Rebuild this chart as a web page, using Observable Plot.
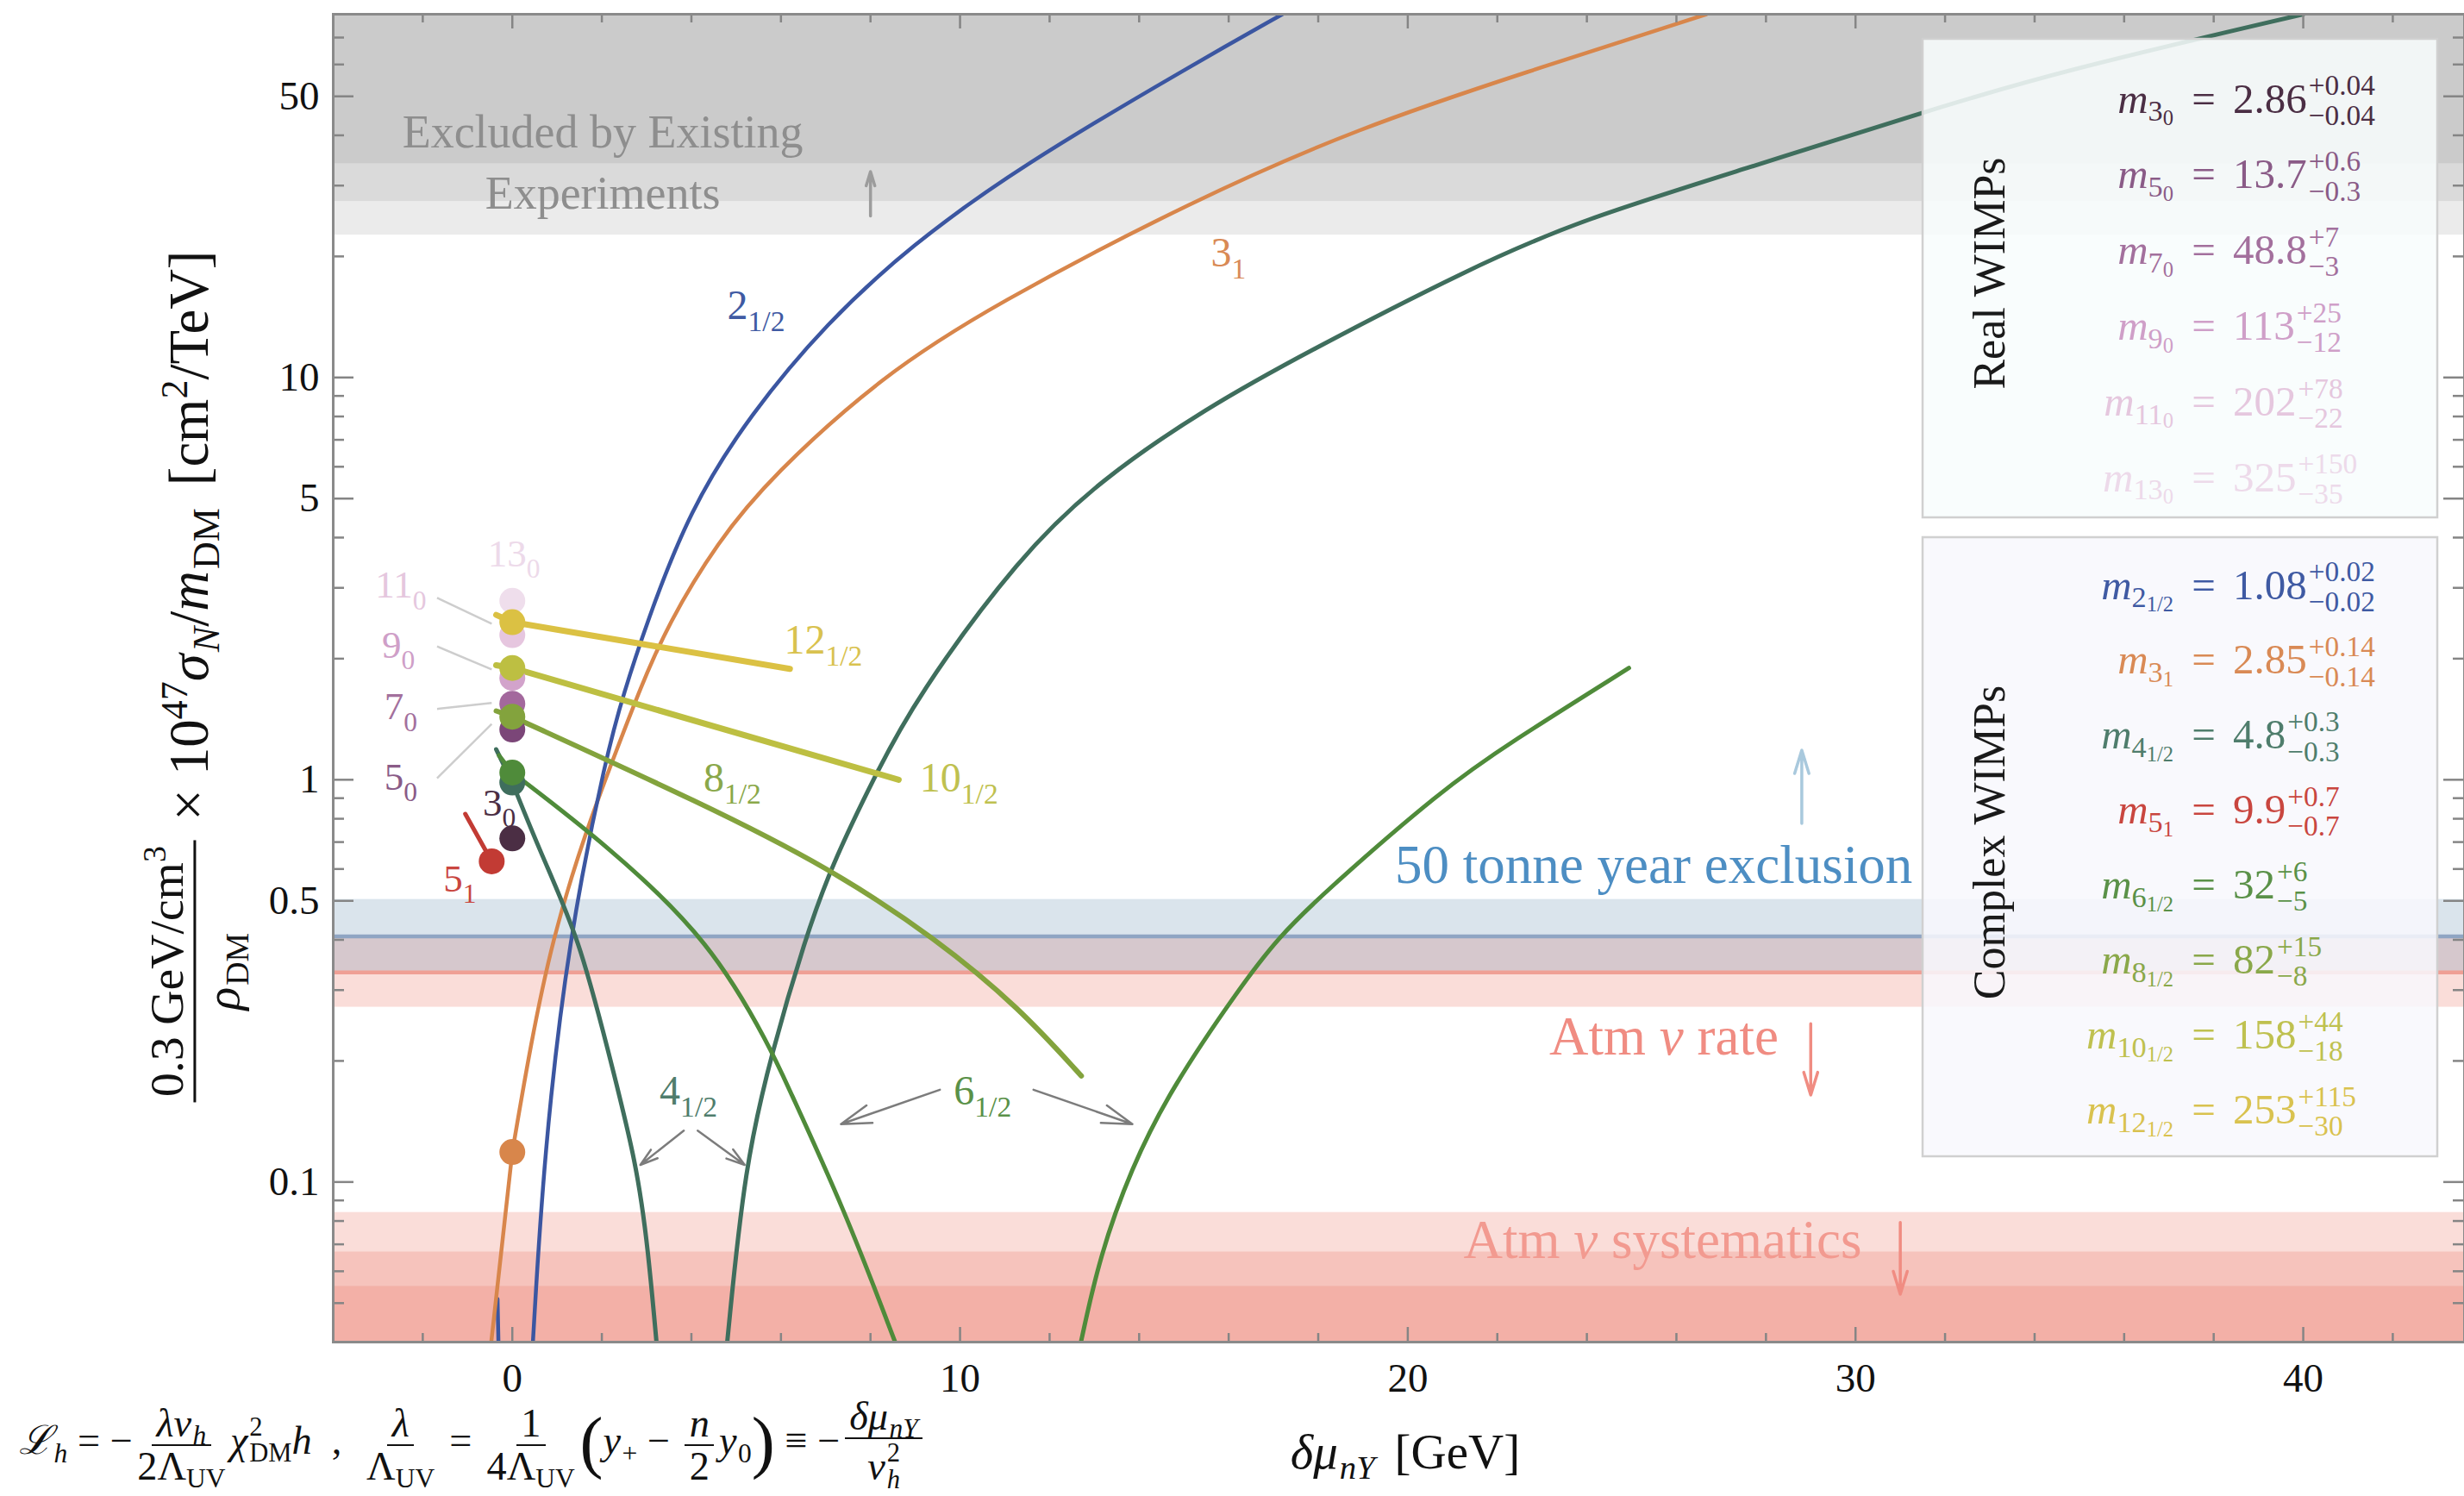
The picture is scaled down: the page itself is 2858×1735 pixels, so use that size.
<!DOCTYPE html>
<html>
<head>
<meta charset="utf-8">
<script src="https://cdn.jsdelivr.net/npm/d3@7"></script>
<script src="https://cdn.jsdelivr.net/npm/@observablehq/plot@0.6"></script>
<style>
  html, body { margin: 0; padding: 0; background: #fff; }
  #wrap { position: relative; width: 2858px; height: 1735px; overflow: hidden; font-family: "Liberation Serif", "DejaVu Serif", serif; color: #111; }
  #wrap > svg { position: absolute; left: 0; top: 0; }
  .ov { position: absolute; white-space: nowrap; line-height: 1.15; }
  .ov sub, .ov sup { font-size: 68%; line-height: 0; }
  .ov sub { vertical-align: -0.3em; }
  .ov sup { vertical-align: 0.55em; }
  .ov i + sub { margin-left: 0.05em; }
  .frac { display: inline-flex; flex-direction: column; align-items: center; vertical-align: middle; margin: 0 0.12em; line-height: 1.05; }
  .frac > span:first-child { border-bottom: 0.055em solid currentColor; padding: 0 0.12em 0.03em; }
  .frac > span:last-child { padding-top: 0.03em; }
  .ss { display: inline-flex; flex-direction: column; font-size: 66%; line-height: 1.0; vertical-align: 0.7em; margin-left: 0.06em; }
  .big { font-size: 175%; vertical-align: -0.16em; line-height: 0; font-weight: 300; }
  .yf { font-size: 0.86em; }
  .op { margin: 0 0.25em; }
  .gap { display: inline-block; width: 0.4em; }
  #formula { line-height: 1; }
  #formula .frac { line-height: 0.98; }
</style>
</head>
<body>
<div id="wrap">
  <div id="ylab" class="ov"><span class="frac yf"><span>0.3 GeV/cm<sup>3</sup></span><span><i>ρ</i><sub>DM</sub></span></span><span class="op">×</span>10<sup>47</sup><i>σ</i><sub><i>N</i></sub>/<i>m</i><sub>DM</sub><span class="gap"></span>[cm<sup>2</sup>/TeV]</div>
  <div id="xlab" class="ov"><i>δμ</i><sub><i>nY</i></sub><span class="gap"></span>[GeV]</div>
  <div id="formula" class="ov"><i>ℒ</i><sub><i>h</i></sub> = −<span class="frac"><span><i>λv</i><sub><i>h</i></sub></span><span>2Λ<sub>UV</sub></span></span><i>χ</i><span class="ss"><span>2</span><span>DM</span></span><i>h</i> &nbsp;, &nbsp;<span class="frac"><span><i>λ</i></span><span>Λ<sub>UV</sub></span></span> = <span class="frac"><span>1</span><span>4Λ<sub>UV</sub></span></span><span class="big">(</span><i>y</i><sub>+</sub> − <span class="frac"><span><i>n</i></span><span>2</span></span><i>y</i><sub>0</sub><span class="big">)</span> ≡ −<span class="frac"><span><i>δμ</i><sub><i>nY</i></sub></span><span><i>v</i><span class="ss"><span>2</span><span><i>h</i></span></span></span></span></div>
</div>
<script>
// ---------- axes ----------
const xDomain = [-4, 43.6];
const yDomain = [0.04, 80];
const xMajorTicks = [0, 10, 20, 30, 40];
const xMinorTicks = [-2, 2, 4, 6, 8, 12, 14, 16, 18, 22, 24, 26, 28, 32, 34, 36, 38, 42];
const yMajorTicks = [0.1, 0.5, 1, 5, 10, 50];
const yMinorTicks = [0.05, 0.06, 0.07, 0.08, 0.09, 0.2, 0.3, 0.4, 0.6, 0.7, 0.8, 0.9, 2, 3, 4, 6, 7, 8, 9, 20, 30, 40, 60, 70];

// ---------- horizontal bands (cross-section ratio values) ----------
const excludedFloors = [22.6, 27.4, 34.0];          // existing-experiment limits, each shaded up to the top
const tonneYearBand = [0.332, 0.408, 0.504];        // low, central, high
const atmRateBand = [0.272, 0.332, 0.408];          // low, central, high
const atmSystCeilings = [0.084, 0.067, 0.055];      // each shaded down to the bottom

// ---------- predictions vs δμ_nY  ([δμ, ratio]) ----------
const curve2Half = [[0.46, 0.04], [0.705, 0.117], [1.25, 0.401], [2.12, 1.18], [2.49, 1.64], [2.98, 2.42], [3.96, 4.7], [5.31, 8.1], [7.03, 13.7], [8.88, 21.2], [11.34, 33.5], [15.24, 60.3], [17.2, 80]];
const curve2HalfLeft = [[-0.33, 0.0512], [-0.31, 0.04]];
const curve3One = [[-0.47, 0.04], [0, 0.1187], [0.40, 0.217], [0.89, 0.401], [1.63, 0.741], [2.36, 1.21], [2.85, 1.68], [3.47, 2.43], [4.58, 3.9], [5.80, 5.7], [8.26, 10.1], [10.72, 15.1], [15.24, 27.7], [18.92, 41.8], [22.61, 57.3], [26.67, 80]];
const curve4HalfLeft = [[-0.36, 1.19], [0, 0.984], [0.64, 0.655], [1.50, 0.401], [2.12, 0.216], [2.79, 0.110], [3.04, 0.0666], [3.22, 0.04]];
const curve4HalfRight = [[4.80, 0.04], [5.19, 0.110], [5.80, 0.2115], [6.54, 0.401], [7.10, 0.602], [8.14, 1.045], [9.0, 1.585], [11.33, 3.61], [13.18, 5.62], [15.5, 8.4], [17.70, 11.5], [21.39, 18.7], [23.84, 24.6], [27.53, 33.0], [31.46, 45.5], [34.5, 57.5], [40.0, 80]];
const curve5One = [[-1.05, 0.822], [-0.46, 0.627]];
const curve6HalfLeft = [[-0.30, 1.15], [0, 1.042], [2.12, 0.688], [4.45, 0.395], [5.80, 0.2115], [6.08, 0.180], [7.43, 0.085], [8.55, 0.04]];
const curve6HalfRight = [[12.70, 0.04], [13.12, 0.0655], [13.82, 0.108], [14.70, 0.170], [16.28, 0.308], [17.10, 0.404], [18.09, 0.52], [20.79, 0.95], [22.25, 1.23], [24.94, 1.896]];
const curve8Half = [[-0.36, 1.483], [0, 1.435], [4.27, 0.87], [7.07, 0.605], [9.49, 0.401], [11.33, 0.2705], [12.71, 0.1835]];
const line10Half = [[-0.36, 1.927], [0, 1.896], [8.63, 1.0]];
const line12Half = [[-0.36, 2.569], [0, 2.465], [6.2, 1.887]];

// ---------- values at δμ = 0 ----------
const realDotNames = ["13_0", "11_0", "9_0", "7_0", "5_0", "3_0"];
const realDotY = [2.786, 2.289, 1.791, 1.545, 1.333, 0.715];
const complexDotNames = ["12_{1/2}", "10_{1/2}", "4_{1/2}", "6_{1/2}", "8_{1/2}", "5_1", "3_1"];
const complexDotX = [0, 0, 0, 0, 0, -0.46, 0];
const complexDotY = [2.465, 1.896, 0.984, 1.042, 1.435, 0.627, 0.1187];

// ---------- labels ----------
const curveLabels = ["2_{1/2}", "3_1", "12_{1/2}", "10_{1/2}", "8_{1/2}", "4_{1/2}", "6_{1/2}"];
const curveLabelX = [4.80, 15.6, 6.07, 9.10, 4.27, 3.29, 9.86];
const curveLabelY = [13.97, 18.9, 2.06, 0.936, 0.936, 0.1556, 0.1556];
const dotLabels = ["13_0", "11_0", "9_0", "7_0", "5_0", "3_0", "5_1"];
const dotLabelX = [-0.55, -3.06, -2.91, -2.86, -2.86, -0.66, -1.54];
const dotLabelY = [3.394, 2.834, 2.008, 1.412, 0.945, 0.815, 0.528];
const leaderFrom = [[-1.68, 2.834], [-1.68, 2.145], [-1.68, 1.50], [-1.68, 1.009]];
const leaderTo = [[-0.46, 2.444], [-0.46, 1.88], [-0.46, 1.552], [-0.46, 1.377]];
const pointerArrows4 = [[3.83, 0.1342, 2.86, 0.1103], [4.14, 0.1342, 5.19, 0.1103]];
const pointerArrows6 = [[9.55, 0.1696, 7.34, 0.1393], [11.64, 0.1696, 13.85, 0.1393]];
const regionNotes = ["Excluded by Existing", "Experiments", "50 tonne year exclusion", "Atm %ν% rate", "Atm %ν% systematics"];
const regionNoteX = [2.02, 2.02, 31.27, 28.28, 30.14];
const regionNoteY = [37.3, 26.3, 0.554, 0.2074, 0.0646];
const excludedArrow = [8.0, 25.2, 8.0, 32.5];
const tonneArrow = [28.8, 0.779, 28.8, 1.185];
const rateArrow = [29.0, 0.2474, 29.0, 0.1645];
const systArrow = [31.0, 0.0793, 31.0, 0.0526];

// ---------- fitted masses (TeV) ----------
const realNames = ["3", "5", "7", "9", "11", "13"];
const realMass = ["2.86", "13.7", "48.8", "113", "202", "325"];
const realUp = ["+0.04", "+0.6", "+7", "+25", "+78", "+150"];
const realDown = ["−0.04", "−0.3", "−3", "−12", "−22", "−35"];
const complexNames = ["2", "3", "4", "5", "6", "8", "10", "12"];
const complexSpin = ["1/2", "1", "1/2", "1", "1/2", "1/2", "1/2", "1/2"];
const complexMass = ["1.08", "2.85", "4.8", "9.9", "32", "82", "158", "253"];
const complexUp = ["+0.02", "+0.14", "+0.3", "+0.7", "+6", "+15", "+44", "+115"];
const complexDown = ["−0.02", "−0.14", "−0.3", "−0.7", "−5", "−8", "−18", "−30"];

// ---------- colours ----------
const colour = {
  "2_{1/2}": "#3b56a1", "3_1": "#d8864b", "4_{1/2}": "#3f6e5d", "5_1": "#c23b34",
  "6_{1/2}": "#4f8b3a", "8_{1/2}": "#83a33d", "10_{1/2}": "#bdbf42", "12_{1/2}": "#dbc143",
  "3_0": "#4b2e44", "5_0": "#7b4678", "7_0": "#a3689d", "9_0": "#d2a3cb", "11_0": "#e6c6df", "13_0": "#efdeec"
};
const labelColour = {
  "2_{1/2}": "#3f5aa3", "3_1": "#d98a55", "4_{1/2}": "#4f7d6c", "6_{1/2}": "#5a9148",
  "8_{1/2}": "#8aa84a", "10_{1/2}": "#bfc150", "12_{1/2}": "#d9c24f",
  "3_0": "#4b2e44", "5_0": "#8a5b87", "7_0": "#a3709d", "9_0": "#cf9fc8", "11_0": "#e5c7de", "13_0": "#eddaea", "5_1": "#c9463f"
};
const noteColour = ["#8e8e8e", "#8e8e8e", "#4d8ec3", "#f08c82", "#f29a90"];

// ---------- layout ----------
const W = 2858, H = 1735, mL = 386, mR = 0, mT = 16, mB = 179;
const plotW = W - mL - mR, plotH = H - mT - mB;

const pts = (arr) => arr.map(([x, y]) => ({x, y}));
const curveMark = (arr, key, width, curve = "basis") =>
  Plot.line(pts(arr), {x: "x", y: "y", stroke: colour[key], strokeWidth: width, curve, clip: true, strokeLinecap: "round"});
// a curve that runs through its δμ = 0 point: short straight lead-in, smooth spline from the point on
const throughPoint = (arr, key, width) => [
  curveMark(arr.slice(0, 2), key, width, "linear"),
  curveMark(arr.slice(1), key, width, "basis")
];
const arrowMark = (segs, stroke, width, head) =>
  Plot.arrow(segs.map(([x1, y1, x2, y2]) => ({x1, y1, x2, y2})),
    {x1: "x1", y1: "y1", x2: "x2", y2: "y2", stroke, strokeWidth: width, headLength: head, headAngle: 34});

const realDots = realDotNames.map((k, i) => ({x: 0, y: realDotY[i], c: colour[k]}));
const complexDots = complexDotNames.map((k, i) => ({x: complexDotX[i], y: complexDotY[i], c: colour[k]}));
const curveLabelData = curveLabels.map((t, i) => ({t, x: curveLabelX[i], y: curveLabelY[i], c: labelColour[t]}));
const dotLabelData = dotLabels.map((t, i) => ({t, x: dotLabelX[i], y: dotLabelY[i], c: labelColour[t]}));
const noteData = regionNotes.map((t, i) => ({t, x: regionNoteX[i], y: regionNoteY[i], c: noteColour[i]}));
const leaders = leaderFrom.map((f, i) => ({x1: f[0], y1: f[1], x2: leaderTo[i][0], y2: leaderTo[i][1]}));
const span = {x1: () => xDomain[0], x2: () => xDomain[1]};

const chart = Plot.plot({
  width: W, height: H,
  marginLeft: mL, marginRight: mR, marginTop: mT, marginBottom: mB,
  style: {fontFamily: "'Liberation Serif', 'DejaVu Serif', serif", fontSize: "47px", color: "#111", background: "transparent"},
  x: {domain: xDomain},
  y: {type: "log", domain: yDomain},
  color: {type: "identity"},
  marks: [
    // shaded regions
    Plot.rect(excludedFloors.map((v) => ({v})), {...span, y1: "v", y2: () => yDomain[1], fill: "#808080", fillOpacity: 0.157}),
    Plot.rect([atmRateBand], {...span, y1: (d) => d[0], y2: (d) => d[2], fill: "rgb(235,120,105)", fillOpacity: 0.25}),
    Plot.rect([tonneYearBand], {...span, y1: (d) => d[0], y2: (d) => d[2], fill: "rgb(70,120,160)", fillOpacity: 0.2}),
    Plot.ruleY([tonneYearBand[1]], {stroke: "#8fa5c3", strokeWidth: 4.5}),
    Plot.ruleY([atmRateBand[1]], {stroke: "#ef9f95", strokeWidth: 4.5}),
    Plot.rect(atmSystCeilings.map((v) => ({v})), {...span, y1: () => yDomain[0], y2: "v", fill: "rgb(235,120,105)", fillOpacity: 0.25}),

    // region notes and their arrows
    Plot.text(noteData.slice(0, 2), {x: "x", y: "y", text: "t", fill: "c", fontSize: 54, textAnchor: "middle", lineAnchor: "bottom"}),
    Plot.text(noteData.slice(2, 3), {x: "x", y: "y", text: "t", fill: "c", fontSize: 63, textAnchor: "end", lineAnchor: "bottom"}),
    Plot.text(noteData.slice(3), {x: "x", y: "y", text: "t", fill: "c", fontSize: 63, textAnchor: "end", lineAnchor: "bottom"}),
    arrowMark([excludedArrow], "#9c9c9c", 3.5, 30),
    arrowMark([tonneArrow], "#a9c9dd", 3.5, 36),
    arrowMark([rateArrow], "#f08c82", 3.5, 36),
    arrowMark([systArrow], "#f08c82", 3.5, 36),

    // predictions
    curveMark(curve2HalfLeft, "2_{1/2}", 4.5, "linear"),
    ...throughPoint(curve3One, "3_1", 4.5),
    curveMark(curve2Half, "2_{1/2}", 4.5),
    ...throughPoint(curve4HalfLeft, "4_{1/2}", 5),
    curveMark(curve4HalfRight, "4_{1/2}", 5),
    ...throughPoint(curve6HalfLeft, "6_{1/2}", 5),
    curveMark(curve6HalfRight, "6_{1/2}", 5),
    ...throughPoint(curve8Half, "8_{1/2}", 6),
    curveMark(line10Half, "10_{1/2}", 7, "linear"),
    curveMark(line12Half, "12_{1/2}", 7, "linear"),
    curveMark(curve5One, "5_1", 5, "linear"),

    // leader lines, dots and labels
    Plot.link(leaders, {x1: "x1", y1: "y1", x2: "x2", y2: "y2", stroke: "#cdcdcd", strokeWidth: 2.5}),
    Plot.dot(realDots, {x: "x", y: "y", fill: "c", r: 15}),
    Plot.dot(complexDots, {x: "x", y: "y", fill: "c", r: 15}),
    Plot.text(curveLabelData, {x: "x", y: "y", text: "t", fill: "c", fontSize: 48, textAnchor: "start", lineAnchor: "bottom"}),
    Plot.text(dotLabelData, {x: "x", y: "y", text: "t", fill: "c", fontSize: 45, textAnchor: "start", lineAnchor: "bottom"}),
    arrowMark(pointerArrows4, "#7c7c7c", 2.5, 22),
    arrowMark(pointerArrows6, "#7c7c7c", 2.5, 22),

    // frame, inward ticks, tick labels
    Plot.tickY(yMajorTicks, {y: (d) => d, insetRight: plotW - 24, stroke: "#858585", strokeWidth: 2.5}),
    Plot.tickY(yMinorTicks, {y: (d) => d, insetRight: plotW - 13, stroke: "#858585", strokeWidth: 2.5}),
    Plot.tickY(yMajorTicks, {y: (d) => d, insetLeft: plotW - 24, stroke: "#858585", strokeWidth: 2.5}),
    Plot.tickY(yMinorTicks, {y: (d) => d, insetLeft: plotW - 13, stroke: "#858585", strokeWidth: 2.5}),
    Plot.tickX(xMajorTicks, {x: (d) => d, insetTop: plotH - 17, stroke: "#858585", strokeWidth: 2.5}),
    Plot.tickX(xMinorTicks, {x: (d) => d, insetTop: plotH - 10, stroke: "#858585", strokeWidth: 2.5}),
    Plot.tickX(xMajorTicks, {x: (d) => d, insetBottom: plotH - 17, stroke: "#858585", strokeWidth: 2.5}),
    Plot.tickX(xMinorTicks, {x: (d) => d, insetBottom: plotH - 10, stroke: "#858585", strokeWidth: 2.5}),
    Plot.frame({stroke: "#8a8a8a", strokeWidth: 3}),
    Plot.axisX(xMajorTicks, {anchor: "bottom", tickSize: 0, tickPadding: 24, fontSize: 47, label: null, tickFormat: (d) => String(d)}),
    Plot.axisY(yMajorTicks, {anchor: "left", tickSize: 0, tickPadding: 16, fontSize: 47, label: null, tickFormat: (d) => String(d)})
  ]
});

// Turn "a_{b}" into a subscript and "%x%" into italics inside SVG labels.
const NS = "http://www.w3.org/2000/svg";
function richify(svg) {
  svg.querySelectorAll("text").forEach((t) => {
    if (t.children.length) return;
    const s = t.textContent;
    if (!/[_%]/.test(s)) return;
    t.textContent = "";
    let buf = "", italic = false, i = 0;
    const put = (txt, sub) => {
      if (!txt) return;
      const ts = document.createElementNS(NS, "tspan");
      ts.textContent = txt;
      if (italic && !sub) ts.setAttribute("font-style", "italic");
      if (sub) { ts.setAttribute("font-size", "70%"); ts.setAttribute("dy", "0.42em"); }
      t.appendChild(ts);
    };
    while (i < s.length) {
      const c = s[i];
      if (c === "%") { put(buf); buf = ""; italic = !italic; i++; }
      else if (c === "_") {
        put(buf); buf = ""; i++;
        let sub;
        if (s[i] === "{") { const j = s.indexOf("}", i); sub = s.slice(i + 1, j); i = j + 1; }
        else { sub = s[i]; i++; }
        put(sub, true);
      } else { buf += c; i++; }
    }
    put(buf);
  });
}

const wrap = document.getElementById("wrap");
wrap.insertBefore(chart, wrap.firstChild);
richify(chart);

// ---------- mass legends ----------
const ov = d3.create("svg").attr("width", W).attr("height", H)
  .attr("font-family", "'Liberation Serif', 'DejaVu Serif', serif");
wrap.appendChild(ov.node());

function legendBox(x, y, w, h, fill) {
  ov.append("rect").attr("x", x).attr("y", y).attr("width", w).attr("height", h)
    .attr("fill", fill).attr("fill-opacity", 0.86).attr("stroke", "#d0d0d0").attr("stroke-width", 2.5);
}
function legendTitle(text, cx, cy) {
  ov.append("text").attr("transform", `translate(${cx},${cy}) rotate(-90)`).attr("text-anchor", "middle")
    .attr("dy", "0.35em").attr("font-size", 52).attr("fill", "#1a1a1a").text(text);
}
function legendRow(y, color, n, spin, mass, up, dn) {
  const F = 49, eqX = 2556;
  const lhs = ov.append("text").attr("x", eqX - 35).attr("y", y).attr("text-anchor", "end")
    .attr("fill", color).attr("font-size", F);
  lhs.append("tspan").attr("font-style", "italic").text("m");
  lhs.append("tspan").attr("font-size", F * 0.7).attr("dy", F * 0.2).text(n);
  lhs.append("tspan").attr("font-size", F * 0.5).attr("dy", F * 0.1).text(spin);
  ov.append("text").attr("x", eqX).attr("y", y).attr("text-anchor", "middle")
    .attr("fill", color).attr("font-size", F).text("=");
  const v = ov.append("text").attr("x", eqX + 34).attr("y", y).attr("fill", color).attr("font-size", F).text(mass);
  const w = v.node().getComputedTextLength();
  ov.append("text").attr("x", eqX + 36 + w).attr("y", y - F * 0.41).attr("fill", color).attr("font-size", F * 0.68).text(up);
  ov.append("text").attr("x", eqX + 36 + w).attr("y", y + F * 0.29).attr("fill", color).attr("font-size", F * 0.68).text(dn);
}

legendBox(2230, 45, 597, 555, "rgb(248,253,253)");
legendTitle("Real WIMPs", 2307, 317);
realNames.forEach((n, i) => legendRow(130.5 + 87.8 * i, labelColour[n + "_0"], n, "0", realMass[i], realUp[i], realDown[i]));

legendBox(2230, 623, 597, 718, "rgb(248,248,253)");
legendTitle("Complex WIMPs", 2307, 977);
complexNames.forEach((n, i) => {
  const key = complexSpin[i] === "1" ? n + "_1" : n + "_{1/2}";
  legendRow(694.5 + 86.9 * i, labelColour[key] || colour[key], n, complexSpin[i], complexMass[i], complexUp[i], complexDown[i]);
});

// ---------- axis titles and the coupling definition ----------
function fitRotated(el, fs, targetLen, cx, cy) {
  el.style.fontSize = fs + "px";
  const w = el.offsetWidth;
  el.style.fontSize = (fs * targetLen / w) + "px";
  el.style.left = cx + "px";
  el.style.top = cy + "px";
  el.style.transform = "translate(-50%,-50%) rotate(-90deg)";
}
fitRotated(document.getElementById("ylab"), 56, 995, 226, 788);

const xlab = document.getElementById("xlab");
xlab.style.fontSize = "57px";
xlab.style.left = "1630px";
xlab.style.top = "1684px";
xlab.style.transform = "translate(-50%,-50%)";

const formula = document.getElementById("formula");
formula.style.fontSize = "36px";
const fw = formula.offsetWidth;
formula.style.fontSize = (36 * 1054 / fw) + "px";
formula.style.left = "22px";
formula.style.top = Math.min(1684 - formula.offsetHeight / 2, H - 4 - formula.offsetHeight) + "px";
</script>
</body>
</html>
